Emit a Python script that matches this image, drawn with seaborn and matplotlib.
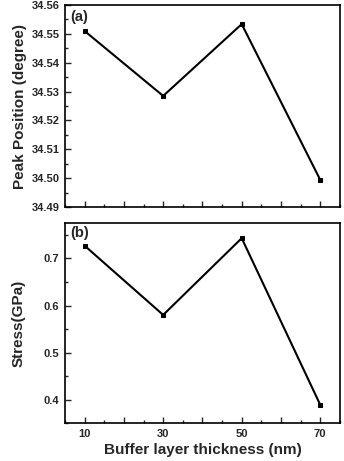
import numpy as np
import pandas as pd
import seaborn as sns
import matplotlib.pyplot as plt
from matplotlib.ticker import MultipleLocator, FixedFormatter, FixedLocator

# data
thickness = [10, 30, 50, 70]
peak_position = [34.551, 34.5285, 34.5534, 34.4994]
stress = [0.727, 0.580, 0.743, 0.389]

sns.set_theme(style='ticks')
plt.rcParams['font.family'] = ['Liberation Sans', 'DejaVu Sans']
plt.rcParams['font.weight'] = 'bold'

df = pd.DataFrame({'thickness': thickness, 'peak': peak_position, 'stress': stress})

fig = plt.figure(figsize=(3.44, 4.61), dpi=100)
ax1 = fig.add_axes([0.189, 0.551, 0.799, 0.438])
ax2 = fig.add_axes([0.189, 0.082, 0.799, 0.434])

sns.lineplot(ax=ax1, data=df, x='thickness', y='peak', color='black', linewidth=1.5,
             marker='s', markersize=3.5, markeredgecolor='black')
sns.lineplot(ax=ax2, data=df, x='thickness', y='stress', color='black', linewidth=1.5,
             marker='s', markersize=3.5, markeredgecolor='black')

ax1.set_ylim(34.49, 34.56)
ax1.yaxis.set_major_locator(MultipleLocator(0.01))
ax1.yaxis.set_minor_locator(MultipleLocator(0.005))
ax1.yaxis.set_major_formatter(plt.FormatStrFormatter('%.2f'))
ax2.set_ylim(0.35, 0.775)
ax2.yaxis.set_major_locator(MultipleLocator(0.1))
ax2.yaxis.set_minor_locator(MultipleLocator(0.05))
ax2.yaxis.set_major_formatter(plt.FormatStrFormatter('%.1f'))

for ax in (ax1, ax2):
    ax.set_xlim(5, 75)
    ax.xaxis.set_major_locator(FixedLocator([10, 20, 30, 40, 50, 60, 70]))
    ax.xaxis.set_minor_locator(MultipleLocator(5))
    ax.tick_params(which='both', direction='in', top=False, right=False, width=1.0, labelsize=8)
    ax.tick_params(which='major', length=4, pad=4)
    ax.tick_params(which='minor', length=2)
    for sp in ax.spines.values():
        sp.set_linewidth(1.2)
        sp.set_color('black')
    for lbl in ax.get_yticklabels():
        lbl.set_fontweight('bold')

ax1.set_xticklabels([])
ax2.xaxis.set_major_formatter(FixedFormatter(['10', '', '30', '', '50', '', '70']))
for lbl in ax2.get_xticklabels():
    lbl.set_fontweight('bold')

ax1.set_xlabel('')
ax1.set_ylabel('Peak Position (degree)', fontsize=11, fontweight='bold', labelpad=3)
ax2.set_ylabel('Stress(GPa)', fontsize=11, fontweight='bold', labelpad=13)
ax2.set_xlabel('Buffer layer thickness (nm)', fontsize=11, fontweight='bold', labelpad=3)

ax1.text(0.02, 0.975, '(a)', transform=ax1.transAxes, fontsize=10.5, fontweight='bold', va='top')
ax2.text(0.02, 0.985, '(b)', transform=ax2.transAxes, fontsize=10.5, fontweight='bold', va='top')

fig.savefig('out.png', dpi=100)
